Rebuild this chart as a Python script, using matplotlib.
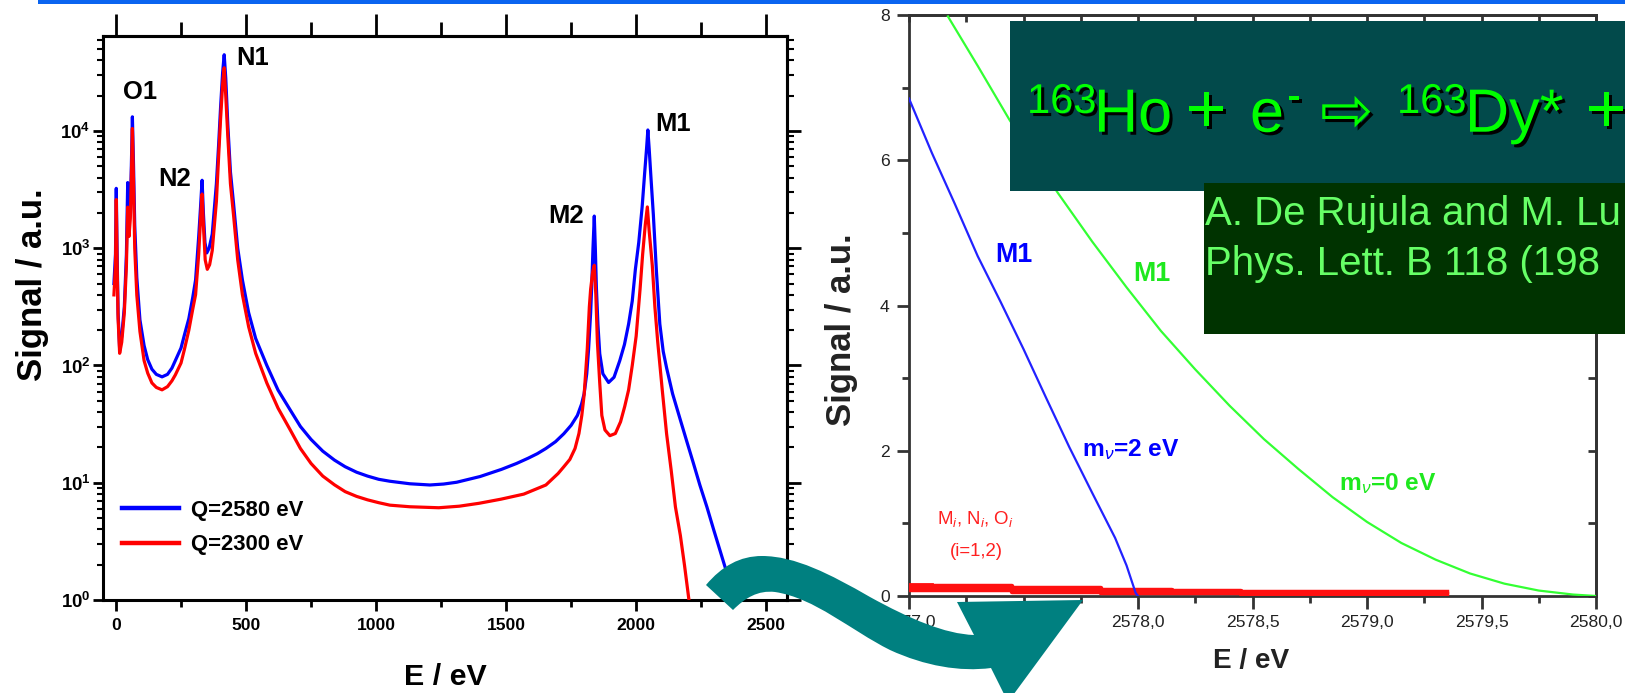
import numpy as np
import matplotlib
matplotlib.use("Agg")
import matplotlib.pyplot as plt
from matplotlib import font_manager
from matplotlib import patheffects as pe
from matplotlib.patches import Rectangle, PathPatch
from matplotlib.path import Path
from matplotlib.transforms import Affine2D
from matplotlib.ticker import LogLocator, MultipleLocator, FuncFormatter, NullFormatter

# ---------------- data ----------------
# Left panel: calculated 163Ho electron-capture spectrum for two Q values
energy_q2580 = [-8, -2, 1, 4, 8, 14, 22, 32, 40, 45, 50, 55, 59, 63, 67, 72, 80, 92, 108, 122,
                138, 155, 177, 198, 215, 228, 250, 263, 280, 295, 306, 318, 325, 331, 336, 342,
                349, 358, 370, 386, 395, 402, 410, 416, 422, 430, 440, 452, 468, 486, 510, 537,
                580, 623, 670, 709, 750, 795, 840, 881, 925, 967, 1010, 1053, 1130, 1207, 1260,
                1310, 1400, 1482, 1540, 1585, 1620, 1653, 1690, 1722, 1750, 1774, 1790, 1800,
                1810, 1817, 1825, 1829, 1834, 1839, 1843, 1847, 1853, 1860, 1872, 1894, 1915,
                1937, 1955, 1971, 1985, 1997, 2010, 2023, 2033, 2040, 2045, 2050, 2057, 2066,
                2078, 2091, 2104, 2117, 2140, 2169, 2195, 2220, 2245, 2272, 2298, 2323, 2340,
                2365, 2385]
signal_q2580 = [500, 890, 3240, 1000, 280, 138, 178, 316, 890, 3630, 1580, 2240, 5010, 13200,
                5620, 1580, 560, 245, 148, 112, 93, 84, 80, 84, 95, 110, 141, 182, 251, 380, 537,
                1260, 2240, 3800, 2000, 1120, 912, 1000, 1320, 3550, 7940, 15800, 31600, 44700,
                28200, 11200, 4470, 2400, 1000, 537, 282, 170, 100, 61.7, 41.7, 30.2, 23.4, 18.6,
                15.6, 13.7, 12.3, 11.4, 10.7, 10.3, 9.8, 9.57, 9.75, 10.1, 11.3, 13.0, 14.6, 16.2,
                17.7, 19.6, 22.4, 26.2, 30.9, 37.5, 46.8, 57.5, 85, 137, 282, 468, 1000, 1880,
                1000, 468, 224, 126, 85, 71.6, 79.4, 110, 151, 226, 355, 661, 1120, 2250, 4470,
                7080, 10200, 7080, 3980, 1950, 631, 226, 132, 95.5, 57.5, 34.9, 22.4, 14.7, 9.55,
                6.22, 3.98, 2.62, 1.97, 1.32, 1.0]

energy_q2300 = [-8, -2, 1, 4, 8, 14, 22, 32, 40, 45, 50, 55, 59, 63, 67, 72, 80, 92, 108, 122,
                138, 155, 177, 198, 215, 228, 250, 263, 280, 295, 306, 318, 325, 331, 336, 343,
                351, 360, 370, 386, 395, 402, 410, 416, 422, 430, 440, 452, 468, 486, 510, 537,
                580, 623, 670, 709, 750, 795, 840, 881, 925, 967, 1010, 1053, 1130, 1241, 1320,
                1396, 1480, 1568, 1653, 1700, 1722, 1745, 1765, 1780, 1791, 1800, 1812, 1820,
                1825, 1833, 1839, 1845, 1851, 1860, 1868, 1880, 1899, 1920, 1940, 1956, 1971,
                1985, 2000, 2015, 2025, 2035, 2043, 2050, 2062, 2072, 2083, 2100, 2117, 2135,
                2151, 2170, 2186, 2203]
signal_q2300 = [400, 708, 2600, 794, 251, 127, 158, 282, 708, 2240, 1260, 1780, 3980, 10500,
                3980, 1000, 398, 195, 110, 86, 71, 65, 62, 66, 74, 83, 105, 137, 200, 302, 402,
                891, 1780, 2900, 1580, 794, 661, 724, 955, 2510, 6310, 12600, 25100, 34600,
                20000, 8910, 3550, 1910, 794, 402, 214, 127, 70.8, 43.3, 28.2, 19.6, 14.6, 11.4,
                9.6, 8.4, 7.65, 7.15, 6.76, 6.44, 6.24, 6.12, 6.31, 6.68, 7.24, 8.0, 9.57, 12.0,
                13.7, 15.8, 19.6, 26.3, 37.5, 56.2, 138, 316, 447, 631, 715, 398, 158, 70.8, 37.5,
                28.2, 25.2, 26.3, 33.1, 44.7, 62, 100, 178, 447, 891, 1580, 2250, 1410, 715, 316,
                158, 63, 26.2, 12.6, 6.22, 3.55, 1.97, 1.0]

peak_names = ["O1", "N2", "N1", "M2", "M1"]
peak_label_E = [94, 225, 525, 1729, 2141]
peak_label_S = [21400, 3900, 41700, 1900, 11500]

# Right panel: end-point region for two neutrino masses
endpoint_E_m2 = [2577.00, 2577.10, 2577.20, 2577.30, 2577.40, 2577.50, 2577.60, 2577.70,
                 2577.80, 2577.90, 2577.95, 2577.99, 2578.00]
endpoint_S_m2 = [6.85, 6.10, 5.40, 4.68, 4.05, 3.40, 2.72, 2.05, 1.42, 0.80, 0.42, 0.04, 0.0]
endpoint_E_m0 = [2577.17, 2577.30, 2577.44, 2577.65, 2577.80, 2577.95, 2578.10, 2578.25,
                 2578.40, 2578.55, 2578.70, 2578.85, 2579.00, 2579.15, 2579.30, 2579.45,
                 2579.60, 2579.75, 2579.90, 2580.00]
endpoint_S_m0 = [7.98, 7.30, 6.55, 5.55, 4.88, 4.25, 3.65, 3.12, 2.62, 2.16, 1.75, 1.36, 1.02,
                 0.73, 0.50, 0.31, 0.17, 0.075, 0.02, 0.0]
# other capture lines (Mi, Ni, Oi) near the end point
tail_E = [2577.00, 2577.45, 2577.84, 2578.15, 2578.45, 2579.35]
tail_S_hi = [0.14, 0.11, 0.085, 0.07, 0.05, 0.05]
tail_S_lo = [0.08, 0.06, 0.045, 0.035, 0.025, 0.025]
tail_E_short = [2577.00, 2577.10]
tail_S_short = [0.17, 0.17]

# ---------------- fonts ----------------
W, H = 1625, 693
names = {f.name for f in font_manager.fontManager.ttflist}
HAS_NARROW = "Liberation Sans Narrow" in names
NARROW = "Liberation Sans Narrow" if HAS_NARROW else "Liberation Sans"


def fs(size):
    return size if HAS_NARROW else size * 0.84


plt.rcParams["font.family"] = [NARROW, "DejaVu Sans"]
plt.rcParams["mathtext.fontset"] = "custom"
plt.rcParams["mathtext.rm"] = NARROW
plt.rcParams["mathtext.bf"] = NARROW + ":bold"
plt.rcParams["mathtext.it"] = NARROW + ":italic"

fig = plt.figure(figsize=(W / 100, H / 100), dpi=100)
fig.patch.set_facecolor("white")
# pixel coordinates measured from the top-left corner
px = Affine2D().scale(1 / W, -1 / H).translate(0, 1) + fig.transFigure

# ---------------- left panel ----------------
axL = fig.add_axes([103 / W, 1 - 600 / H, (787 - 103) / W, (600 - 36) / H])
axL.plot(energy_q2580, signal_q2580, color="#0000ff", lw=2.3, label="Q=2580 eV", zorder=3)
axL.plot(energy_q2300, signal_q2300, color="#ff0000", lw=2.3, label="Q=2300 eV", zorder=4)
axL.set_yscale("log")
axL.set_xlim(-50, 2580)
axL.set_ylim(1, 10 ** 4.81)
for sp in axL.spines.values():
    sp.set_linewidth(2.2)

axL.xaxis.set_major_locator(MultipleLocator(500))
axL.xaxis.set_minor_locator(MultipleLocator(250))
axL.yaxis.set_major_locator(LogLocator(base=10, numticks=12))
axL.yaxis.set_minor_locator(LogLocator(base=10, subs=np.arange(2, 10), numticks=12))
axL.yaxis.set_minor_formatter(NullFormatter())
axL.yaxis.set_major_formatter(
    FuncFormatter(lambda v, p: r"$\mathbf{10^{%d}}$" % int(round(np.log10(v)))))
axL.tick_params(axis="x", which="major", direction="out", length=8, width=2, pad=5,
                labelsize=fs(15))
axL.tick_params(axis="x", which="minor", direction="out", length=5, width=2)
axL.tick_params(axis="y", which="major", direction="out", length=7, width=2, pad=2,
                labelsize=fs(16))
axL.tick_params(axis="y", which="minor", direction="out", length=4, width=1.5)
for lbl in axL.get_xticklabels():
    lbl.set_fontweight("bold")

topL = axL.secondary_xaxis("top")
topL.xaxis.set_major_locator(MultipleLocator(500))
topL.xaxis.set_minor_locator(MultipleLocator(250))
topL.xaxis.set_major_formatter(NullFormatter())
topL.tick_params(axis="x", which="major", direction="out", length=16, width=2)
topL.tick_params(axis="x", which="minor", direction="out", length=10, width=2)
topL.spines["top"].set_linewidth(2.2)

rightL = axL.secondary_yaxis("right")
rightL.yaxis.set_major_locator(LogLocator(base=10, numticks=12))
rightL.yaxis.set_minor_locator(LogLocator(base=10, subs=np.arange(2, 10), numticks=12))
rightL.yaxis.set_major_formatter(NullFormatter())
rightL.yaxis.set_minor_formatter(NullFormatter())
rightL.tick_params(axis="y", which="major", direction="out", length=10, width=2)
rightL.tick_params(axis="y", which="minor", direction="out", length=5, width=1.5)
rightL.spines["right"].set_linewidth(2.2)

for name, e, s in zip(peak_names, peak_label_E, peak_label_S):
    axL.text(e, s, name, ha="center", va="center", fontsize=fs(22), fontweight="bold",
             color="black", zorder=6)

leg_size = fs(19)
leg_px = leg_size * 100 / 72
leg = axL.legend(loc="upper left", bbox_to_anchor=((122 - 103) / 684, (600 - 500) / 564),
                 frameon=False, borderpad=0, borderaxespad=0, handlelength=57 / leg_px,
                 handletextpad=12 / leg_px, labelspacing=0.6,
                 prop={"family": NARROW, "weight": "bold", "size": leg_size})
for ln in leg.get_lines():
    ln.set_linewidth(3.2)

fig.text(33, 285, "Signal / a.u.", transform=px, rotation=90, ha="center", va="center",
         fontsize=25, fontweight="bold", family="Liberation Sans", color="black")
fig.text(445, 677, "E / eV", transform=px, ha="center", va="center", fontsize=fs(26),
         fontweight="bold", color="black")

# ---------------- right panel ----------------
grey = "#333333"
axR = fig.add_axes([909 / W, 1 - 596 / H, (1596 - 909) / W, (596 - 15) / H])
axR.plot(tail_E, tail_S_hi, color="#ff1010", lw=3.2, drawstyle="steps-post", zorder=3)
axR.plot(tail_E, tail_S_lo, color="#ff1010", lw=3.2, drawstyle="steps-post", zorder=3)
axR.plot(tail_E_short, tail_S_short, color="#ff1010", lw=2, zorder=3)
axR.plot(endpoint_E_m0, endpoint_S_m0, color="#33ff33", lw=1.6, zorder=4)
axR.plot(endpoint_E_m2, endpoint_S_m2, color="#2222ff", lw=1.6, zorder=4)
axR.set_xlim(2577.0, 2580.0)
axR.set_ylim(0, 8)
for sp in axR.spines.values():
    sp.set_linewidth(2)
    sp.set_color(grey)
axR.xaxis.set_major_locator(MultipleLocator(0.5))
axR.xaxis.set_minor_locator(MultipleLocator(0.25))
axR.yaxis.set_major_locator(MultipleLocator(2))
axR.yaxis.set_minor_locator(MultipleLocator(1))
axR.xaxis.set_major_formatter(FuncFormatter(lambda v, p: f"{v:.1f}".replace(".", ",")))
axR.tick_params(axis="both", which="major", direction="out", length=9, width=2, color=grey,
                labelcolor="#222222", labelsize=fs(15), pad=5)
axR.tick_params(axis="both", which="minor", direction="out", length=5, width=2, color=grey)

topR = axR.secondary_xaxis("top")
topR.xaxis.set_major_locator(MultipleLocator(0.25))
topR.xaxis.set_major_formatter(NullFormatter())
topR.tick_params(axis="x", which="major", direction="in", length=5, width=2, color=grey)
topR.spines["top"].set_color(grey)
topR.spines["top"].set_linewidth(2)
rightR = axR.secondary_yaxis("right")
rightR.yaxis.set_major_locator(MultipleLocator(1))
rightR.yaxis.set_major_formatter(NullFormatter())
rightR.tick_params(axis="y", which="major", direction="in", length=6, width=2, color=grey)
rightR.spines["right"].set_color(grey)
rightR.spines["right"].set_linewidth(2)

axR.text(2577.459, 4.70, "M1", color="#0000ff", fontweight="bold", fontsize=fs(23),
         ha="center", va="center")
axR.text(2577.755, 1.93, r"m$_{\nu}$=2 eV", color="#0000ff", fontweight="bold",
         fontsize=fs(21), ha="left", va="baseline")
axR.text(2578.061, 4.43, "M1", color="#1ee81e", fontweight="bold", fontsize=fs(23),
         ha="center", va="center")
axR.text(2578.878, 1.46, r"m$_{\nu}$=0 eV", color="#1ee81e", fontweight="bold",
         fontsize=fs(21), ha="left", va="baseline")
axR.text(2577.288, 1.06, r"M$_i$, N$_i$, O$_i$", color="#ff2020", fontsize=fs(16),
         ha="center", va="center")
axR.text(2577.295, 0.606, "(i=1,2)", color="#ff2020", fontsize=fs(16), ha="center",
         va="center")

fig.text(841, 330, "Signal / a.u.", transform=px, rotation=90, ha="center", va="center",
         fontsize=25, fontweight="bold", family="Liberation Sans", color="#222222")
fig.text(1251, 661, "E / eV", transform=px, ha="center", va="center", fontsize=fs(24),
         fontweight="bold", color="#222222")

# ---------------- slide decorations ----------------
fig.add_artist(Rectangle((38, 0), W - 38, 3.5, transform=px, facecolor="#0a64f0",
                         edgecolor="none", zorder=30))

fig.add_artist(Rectangle((1010, 20.7), W - 1010, 170, transform=px, facecolor="#024a4b",
                         edgecolor="none", zorder=20))
fig.add_artist(Rectangle((1204, 182.7), W - 1204, 151, transform=px, facecolor="#003300",
                         edgecolor="none", zorder=21))

shadow = [pe.withSimplePatchShadow(offset=(2.2, -2.2), shadow_rgbFace="black", alpha=1.0)]
reaction = [
    ("163", 1027, 113, 30, "Liberation Sans"),
    ("Ho", 1094, 131.7, 44, "Liberation Sans"),
    ("+", 1186, 131.7, 50, "Liberation Sans"),
    ("e", 1250, 131.7, 44, "Liberation Sans"),
    ("-", 1287, 109, 30, "Liberation Sans"),
    ("\u21e8", 1320, 131.7, 46, "DejaVu Sans"),
    ("163", 1397, 113, 30, "Liberation Sans"),
    ("Dy*", 1465, 131.7, 44, "Liberation Sans"),
    ("+", 1586, 131.7, 50, "Liberation Sans"),
]
for s, x0, yb, size, fam in reaction:
    fig.text(x0, yb, s, transform=px, ha="left", va="baseline", fontsize=size,
             family=[fam, "DejaVu Sans"], color="#00ff00", path_effects=shadow, zorder=22)

fig.text(1205, 225, "A. De Rujula and M. Lu", transform=px, ha="left",
         va="baseline", fontsize=29, family="Liberation Sans", color="#66ff66", zorder=23)
fig.text(1205, 275, "Phys. Lett. B 118 (198", transform=px, ha="left",
         va="baseline", fontsize=29, family="Liberation Sans", color="#66ff66", zorder=23)

# curved teal arrow linking the two panels
arrow_verts = [
    (706, 585),
    (722, 566), (740, 556), (762, 556),
    (795, 556), (830, 574), (870, 597),
    (910, 619), (945, 634), (974, 635),
    (957, 602),
    (1083, 600),
    (1008, 702),
    (991, 668),
    (960, 672), (925, 666), (890, 650),
    (850, 630), (815, 598), (775, 592),
    (758, 590), (745, 598), (733, 610),
    (706, 585),
]
arrow_codes = ([Path.MOVETO] + [Path.CURVE4] * 9 + [Path.LINETO] * 4 + [Path.CURVE4] * 9
               + [Path.CLOSEPOLY])
fig.add_artist(PathPatch(Path(arrow_verts, arrow_codes), transform=px, facecolor="#008080",
                         edgecolor="none", zorder=25))

fig.savefig("out.png", dpi=100, facecolor="white")
